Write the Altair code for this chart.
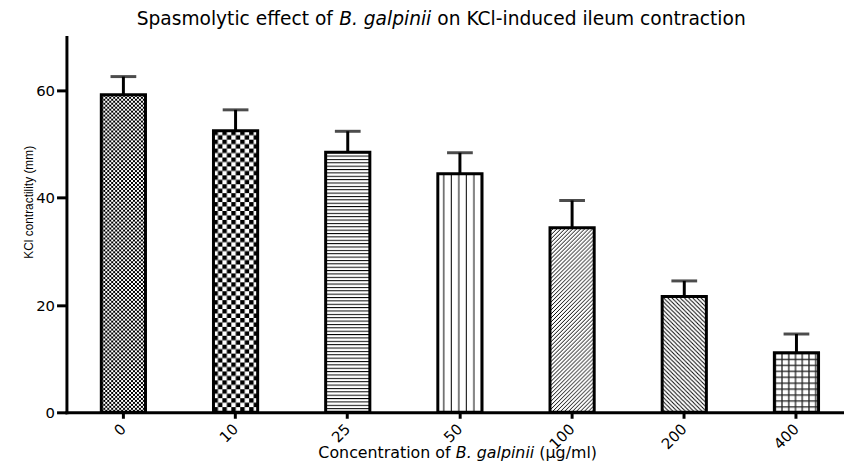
import base64
import altair as alt
import pandas as pd

# ---- data ----
concentrations = ["0", "10", "25", "50", "100", "200", "400"]
contractility = [59.2, 52.5, 48.5, 44.5, 34.4, 21.6, 11.1]
error_upper = [62.6, 56.4, 52.4, 48.4, 39.5, 24.5, 14.6]
y_ticks = [0, 20, 40, 60]

title_parts = ["Spasmolytic effect of", "B. galpinii", "on KCl-induced ileum contraction"]
xtitle_parts = ["Concentration of", "B. galpinii", "(µg/ml)"]
ytitle = "KCl contractility (mm)"

df = pd.DataFrame({"conc": concentrations, "value": contractility, "upper": error_upper})
one = pd.DataFrame({"k": [0]})

# ---- fill patterns (GraphPad-style hatching) ----
def pattern_uri(w, h, body):
    svg = ("<svg xmlns='http://www.w3.org/2000/svg' width='100%' height='100%'>"
           f"<defs><pattern id='p' patternUnits='userSpaceOnUse' width='{w}' height='{h}'>{body}</pattern></defs>"
           "<rect width='100%' height='100%' fill='white'/>"
           "<rect width='100%' height='100%' fill='url(#p)'/></svg>")
    return "data:image/svg+xml;base64," + base64.b64encode(svg.encode()).decode()

patterns = {
    "0": pattern_uri(4, 4, "<rect width='4' height='4' fill='black'/><rect width='2' height='2' fill='white'/>"
                           "<rect x='2' y='2' width='2' height='2' fill='white'/>"),
    "10": pattern_uri(9, 9, "<rect width='4.5' height='4.5' fill='black'/>"
                            "<rect x='4.5' y='4.5' width='4.5' height='4.5' fill='black'/>"),
    "25": pattern_uri(10, 3.4, "<rect width='10' height='1' fill='black'/>"),
    "50": pattern_uri(7.6, 10, "<rect x='5.5' width='1' height='10' fill='black'/>"),
    "100": pattern_uri(4, 4, "<path d='M0,4 L4,0 M-1,1 L1,-1 M3,5 L5,3' stroke='black' stroke-width='1'/>"),
    "200": pattern_uri(4.2, 4.2, "<path d='M0,0 L4.2,4.2 M-1,3.2 L1,5.2 M3.2,-1 L5.2,1' stroke='black' stroke-width='1'/>"),
    "400": pattern_uri(6.8, 6, "<rect x='0.3' width='1.3' height='6' fill='#222'/><rect width='6.8' height='1.3' fill='#222'/>"),
}

W, H = 785, 379
x_scale = alt.Scale(domain=concentrations, paddingInner=0.606, paddingOuter=0.2688, align=0.578)
y_scale = alt.Scale(domain=[0, 70], nice=False, zero=True)

x_enc = alt.X("conc:N", sort=concentrations, scale=x_scale,
              axis=alt.Axis(title=None, labelAngle=-45, labelAlign="right", labelBaseline="middle",
                            labelPadding=8, tickSize=6))
y_axis = alt.Axis(title=None, values=y_ticks, tickSize=10, labelPadding=2)

base = alt.Chart(df)

pattern_layers = [
    base.transform_filter(alt.datum.conc == c).mark_image(aspect=False).encode(
        x=x_enc,
        y=alt.Y("value:Q", scale=y_scale, axis=y_axis),
        y2=alt.datum(0),
        url=alt.value(patterns[c]),
    )
    for c in concentrations
]

outline = base.mark_bar(fill="white", fillOpacity=0, stroke="black", strokeWidth=3, strokeJoin="miter").encode(
    x=x_enc, y=alt.Y("value:Q", scale=y_scale, axis=y_axis))

err_line = base.mark_rule(color="black", strokeWidth=3).encode(
    x=x_enc, y=alt.Y("value:Q", scale=y_scale), y2="upper:Q")
err_cap = base.mark_tick(color="black", size=26, thickness=3).encode(
    x=x_enc, y=alt.Y("upper:Q", scale=y_scale))

# ---- titles with mixed italic (DejaVu Sans em widths) ----
fs_t = 18.8
w_t = [10.874, 4.951, 0.318]
cx_t = 379
start_t = cx_t - 32.774 * fs_t / 2
xs_t = [start_t, start_t + w_t[0] * fs_t, start_t + (w_t[0] + w_t[1] + w_t[2]) * fs_t]
fs_x = 16
w_x = [8.675, 4.951, 0.318]
cx_x = 395
start_x = cx_x - 17.584 * fs_x / 2
xs_x = [start_x, start_x + w_x[0] * fs_x, start_x + (w_x[0] + w_x[1] + w_x[2]) * fs_x]

def text_layer(txt, x, y, size, italic=False):
    kw = dict(align="left", baseline="alphabetic", font="DejaVu Sans", fontSize=size, color="black")
    if italic:
        kw["fontStyle"] = "italic"
    return alt.Chart(one).mark_text(**kw).encode(x=alt.value(x), y=alt.value(y), text=alt.value(txt))

texts = []
for i, t in enumerate(title_parts):
    texts.append(text_layer(t, xs_t[i], -12, fs_t, italic=(i == 1)))
for i, t in enumerate(xtitle_parts):
    texts.append(text_layer(t, xs_x[i], 425, fs_x, italic=(i == 1)))
texts.append(alt.Chart(one).mark_text(angle=270, align="center", baseline="alphabetic",
                                      font="Liberation Sans", fontSize=12, color="black").encode(
    x=alt.value(-34), y=alt.value(167), text=alt.value(ytitle)))

chart = alt.layer(*pattern_layers, outline, err_line, err_cap, *texts).properties(
    width=W, height=H,
    padding={"left": 59, "top": 27, "right": 0, "bottom": 50},
    autosize=alt.AutoSizeParams(type="none"),
    background="white",
).configure_view(stroke=None).configure_axis(
    domainColor="black", domainWidth=3, domainCap="square", tickColor="black", tickWidth=3,
    labelColor="black", labelFont="DejaVu Sans", labelFontSize=15, grid=False,
)

chart.save("out.html", embed_options={"renderer": "svg", "actions": False})
